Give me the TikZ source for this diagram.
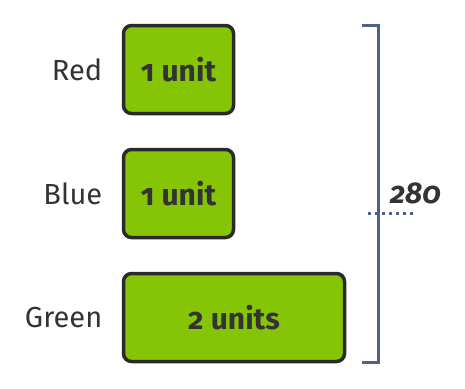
\documentclass[tikz,border=0pt]{standalone}
\usepackage{fontspec}
\setmainfont[Numbers=OldStyle]{Fira Sans}
\usepackage{tikz}
\usetikzlibrary{positioning}
\definecolor{barfill}{RGB}{134,196,6}
\definecolor{barline}{RGB}{42,42,42}
\definecolor{textgray}{RGB}{51,51,51}
\definecolor{bracecol}{RGB}{77,99,132}

\begin{document}
\begin{tikzpicture}[
    x=1pt, y=-1pt,
    node distance=32.5pt,
    bar/.style={rectangle, draw=barline, line width=3.5pt, rounded corners=8pt,
                fill=barfill, minimum width=110pt, minimum height=88pt,
                font=\fontsize{30}{34}\selectfont\bfseries, text=textgray},
    colorname/.style={font=\fontsize{29}{34}\selectfont, text=textgray, anchor=east},
    brace/.style={draw=bracecol, line width=3pt},
]
    \useasboundingbox (0,0) rectangle (465,388);

    \node[bar] (red) at (178.5,69.5) {1 unit};
    \node[bar, below=of red] (blue) {1 unit};
    \node[bar, minimum width=221pt, below=of blue.south west, anchor=north west] (green) {2 units};

    \node[colorname, left=16pt of red] (redlabel) {Red};
    \node[colorname, left=16pt of blue] (bluelabel) {Blue};
    \node[colorname, left=16pt of green] (greenlabel) {Green};

    % bracket for the total
    \coordinate (bracetop) at (378,25);
    \coordinate (bracebot) at (378,362);
    \draw[brace] (362,25) -- (bracetop) -- (bracebot) -- (362,362);
    \draw[bracecol, line width=3pt, dash pattern=on 3pt off 4pt] (368,213) -- (413,213);
    \node[anchor=base west, inner sep=0pt, text=textgray,
          font=\fontsize{30}{34}\selectfont\bfseries\itshape] (total) at (390,203) {280};
\end{tikzpicture}
\end{document}
